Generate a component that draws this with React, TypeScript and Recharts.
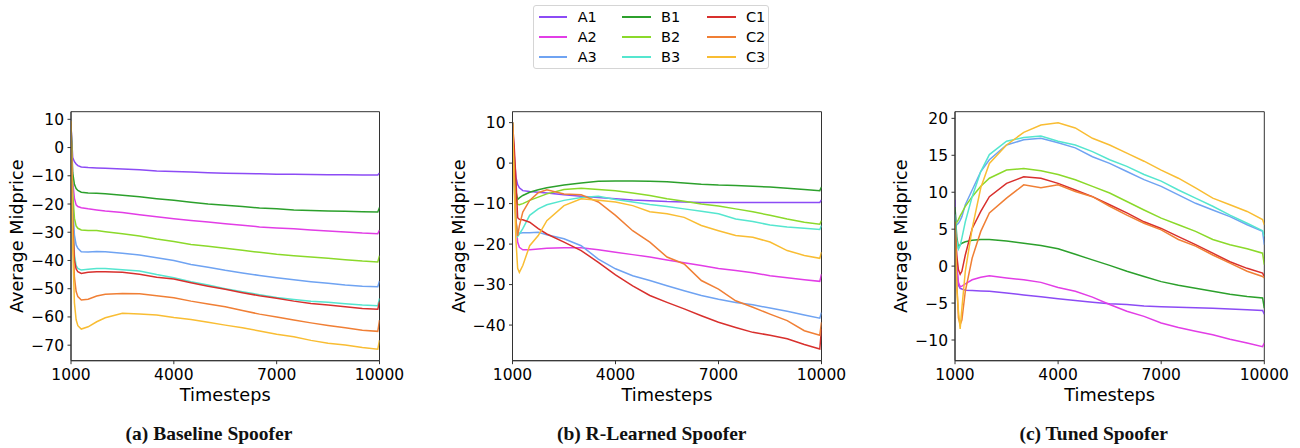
import React from "react";
import { LineChart, Line, XAxis, YAxis, ReferenceArea } from "recharts";

const timesteps = [1000, 1050, 1100, 1150, 1200, 1300, 1500, 1750, 2000, 2500, 3000, 3500, 4000, 4500, 5000, 5500, 6000, 6500, 7000, 7500, 8000, 8500, 9000, 9500, 9950, 10000];
const seriesNames = ["A1", "A2", "A3", "B1", "B2", "B3", "C1", "C2", "C3"];
const seriesColors = ["#8c4bf5", "#e23de6", "#6fa3f2", "#2ca02c", "#8bd92a", "#55e6cf", "#d8302d", "#f07f35", "#f9bd33"];
const xTicks = [1000, 4000, 7000, 10000];

// (a) Baseline Spoofer
const baseA1 = [8, -3.5, -5, -5.8, -6.4, -6.9, -7.1, -7.2, -7.3, -7.6, -7.9, -8.3, -8.5, -8.7, -8.9, -9.1, -9.2, -9.3, -9.5, -9.5, -9.55, -9.6, -9.6, -9.7, -9.7, -9.0];
const baseA2 = [8.5, -12, -18, -20.3, -20.9, -21.3, -21.7, -22.1, -22.5, -23.0, -23.8, -24.5, -25.2, -25.8, -26.4, -27.0, -27.5, -28.1, -28.5, -28.8, -29.2, -29.6, -29.9, -30.3, -30.5, -29.2];
const baseA3 = [8.5, -20, -31, -34.5, -35.7, -36.9, -37.0, -36.8, -36.9, -37.4, -38.1, -39.0, -40.0, -41.4, -42.4, -43.5, -44.4, -45.3, -46.1, -46.8, -47.5, -48.1, -48.7, -49.1, -49.3, -47.3];
const baseB1 = [8.5, -9, -13, -14.5, -15.2, -15.8, -16.1, -16.2, -16.4, -16.9, -17.4, -18.1, -18.7, -19.4, -20.0, -20.4, -20.9, -21.4, -21.7, -22.1, -22.3, -22.5, -22.6, -22.7, -22.8, -21.2];
const baseB2 = [8.5, -16, -25, -27.8, -28.6, -29.2, -29.4, -29.4, -29.8, -30.5, -31.3, -32.4, -33.3, -34.3, -35.0, -35.7, -36.4, -37.1, -37.8, -38.3, -38.8, -39.2, -39.7, -40.2, -40.5, -38.3];
const baseB3 = [8.5, -25, -38, -41.8, -42.8, -43.4, -43.1, -42.8, -42.8, -43.3, -43.7, -45.0, -46.1, -47.5, -48.7, -50.0, -51.1, -52.1, -53.1, -53.8, -54.4, -54.8, -55.3, -55.8, -56.0, -53.4];
const baseC1 = [8.5, -26, -40, -43, -44.0, -44.6, -44.2, -44.0, -44.0, -44.2, -44.9, -45.9, -46.6, -47.9, -49.1, -50.2, -51.4, -52.5, -53.4, -54.4, -55.2, -55.8, -56.4, -57.0, -57.3, -54.6];
const baseC2 = [9, -30, -46, -51, -52.8, -54.0, -53.7, -52.6, -52.0, -51.7, -51.8, -52.5, -53.2, -54.4, -55.4, -56.4, -57.7, -59.0, -60.0, -61.1, -62.1, -63.0, -63.8, -64.7, -65.1, -61.1];
const baseC3 = [9.5, -35, -55, -61, -63.1, -64.3, -63.5, -61.7, -60.3, -58.7, -59.0, -59.3, -60.2, -60.9, -61.9, -62.9, -63.8, -65.0, -66.1, -67.0, -68.3, -69.3, -69.9, -70.8, -71.4, -68.2];

// (b) R-Learned Spoofer
const rlA1 = [10, 2, -3.5, -5.3, -6.1, -6.8, -7.0, -7.2, -7.4, -7.8, -8.2, -8.5, -8.8, -9.1, -9.3, -9.5, -9.6, -9.7, -9.7, -9.7, -9.7, -9.7, -9.7, -9.7, -9.7, -9.1];
const rlA2 = [10, -2, -14, -19.5, -20.8, -21.4, -21.4, -21.2, -21.0, -20.9, -20.9, -21.4, -22.0, -22.6, -23.2, -23.9, -24.6, -25.3, -26.0, -26.5, -27.1, -27.8, -28.3, -28.8, -29.2, -27.4];
const rlA3 = [10, -5, -15, -17.2, -17.3, -17.2, -17.2, -17.1, -17.7, -18.7, -20.4, -23.7, -26.1, -27.8, -29.0, -30.3, -31.5, -32.7, -33.6, -34.4, -35.0, -35.8, -36.6, -37.5, -38.3, -36.9];
const rlB1 = [10, 0, -7, -9, -8.6, -8.0, -7.2, -6.6, -6.1, -5.4, -4.9, -4.5, -4.4, -4.4, -4.5, -4.6, -4.9, -5.2, -5.4, -5.5, -5.7, -5.9, -6.2, -6.5, -6.8, -5.9];
const rlB2 = [10, -2, -8, -10.2, -10.3, -10.0, -9.2, -8.4, -7.6, -6.5, -6.2, -6.5, -6.8, -7.4, -8.0, -8.8, -9.4, -10.1, -10.6, -11.3, -12.0, -12.9, -13.8, -14.6, -15.1, -14.2];
const rlB3 = [10, -5, -14, -18.1, -17.5, -16.2, -12.9, -11.3, -10.3, -9.2, -8.5, -8.2, -9.0, -9.6, -10.2, -10.7, -11.3, -11.9, -12.5, -13.8, -14.4, -15.3, -15.8, -16.1, -16.4, -15.4];
const rlC1 = [10, 4, -4, -13.5, -13.9, -14.0, -14.6, -16.2, -17.5, -19.5, -21.6, -24.5, -27.6, -30.3, -32.7, -34.4, -36.0, -37.7, -39.3, -40.6, -41.8, -42.5, -43.4, -44.8, -45.9, -41.0];
const rlC2 = [10, -3, -14, -18, -15.5, -12.1, -9.2, -7.3, -6.6, -7.6, -7.8, -9.6, -12.9, -16.7, -19.5, -23.2, -24.9, -29.0, -31.1, -34.0, -35.6, -37.3, -38.9, -41.4, -42.5, -39.3];
const rlC3 = [10, -6, -19, -26, -27.0, -25.3, -20.4, -17.9, -14.2, -10.5, -8.8, -9.2, -9.6, -10.5, -12.0, -12.5, -13.4, -15.4, -16.7, -17.9, -18.3, -19.5, -21.6, -22.8, -23.5, -22.0];

// (c) Tuned Spoofer
const tunedA1 = [9, 0, -2.6, -3.0, -3.1, -3.25, -3.3, -3.35, -3.4, -3.65, -3.9, -4.15, -4.4, -4.65, -4.9, -5.1, -5.2, -5.4, -5.5, -5.55, -5.65, -5.7, -5.8, -5.9, -6.0, -6.5];
const tunedA2 = [8, 0, -2.2, -2.8, -2.7, -2.4, -1.85, -1.5, -1.3, -1.6, -1.85, -2.2, -2.9, -3.4, -4.2, -5.2, -6.1, -6.8, -7.7, -8.3, -8.8, -9.3, -9.9, -10.4, -10.9, -10.4];
const tunedA3 = [5.5, 5.6, 5.8, 6.2, 6.7, 8.3, 10.3, 12.8, 14.4, 16.4, 17.1, 17.3, 16.7, 16.0, 14.8, 13.9, 12.8, 11.7, 10.8, 9.65, 8.5, 7.6, 6.7, 5.6, 4.7, 2.9];
const tunedB1 = [8, 4, 2.5, 2.9, 3.1, 3.3, 3.5, 3.6, 3.6, 3.4, 3.1, 2.8, 2.35, 1.6, 0.85, 0.1, -0.7, -1.4, -2.1, -2.6, -3.0, -3.4, -3.8, -4.1, -4.3, -5.7];
const tunedB2 = [5.5, 5.9, 6.3, 6.8, 7.2, 8.1, 9.4, 10.8, 11.9, 13.0, 13.2, 12.9, 12.4, 11.7, 10.8, 9.9, 8.75, 7.6, 6.5, 5.6, 4.7, 3.6, 2.9, 2.35, 1.75, 0.2];
const tunedB3 = [7, 3.5, 2.3, 2.8, 3.8, 6.0, 9.4, 12.8, 15.1, 16.9, 17.4, 17.6, 16.9, 16.4, 15.5, 14.4, 13.5, 12.4, 11.5, 10.3, 9.2, 8.1, 6.9, 5.8, 4.8, 4.0];
const tunedC1 = [6, 1.5, -0.5, -1.1, -0.7, 1.5, 5.1, 7.4, 9.4, 11.2, 12.1, 11.9, 11.2, 10.3, 9.4, 8.3, 7.2, 6.0, 5.1, 4.0, 2.9, 1.75, 0.6, -0.3, -0.95, -1.4];
const tunedC2 = [5, -2, -7.0, -7.9, -7.3, -3.4, 1.1, 4.7, 7.2, 9.2, 11.0, 10.6, 11.0, 10.1, 9.4, 8.1, 6.9, 5.8, 4.9, 3.6, 2.7, 1.5, 0.4, -0.7, -1.4, -1.6];
const tunedC3 = [6, -3, -6.1, -8.5, -5.7, -0.7, 5.1, 10.6, 13.9, 16.4, 18.1, 19.1, 19.4, 18.7, 17.3, 16.4, 15.3, 14.2, 13.0, 11.9, 10.6, 9.2, 8.3, 7.4, 6.3, 5.6];

const baseTicks = [10, 0, -10, -20, -30, -40, -50, -60, -70];
const rlTicks = [10, 0, -10, -20, -30, -40];
const tunedTicks = [20, 15, 10, 5, 0, -5, -10];

const captions = ["(a) Baseline Spoofer", "(b) R-Learned Spoofer", "(c) Tuned Spoofer"];

function buildRows(cols: number[][]) {
  return timesteps.map((t, i) => {
    const row: Record<string, number> = { t };
    seriesNames.forEach((n, k) => {
      row[n] = cols[k][i];
    });
    return row;
  });
}

const baseRows = buildRows([baseA1, baseA2, baseA3, baseB1, baseB2, baseB3, baseC1, baseC2, baseC3]);
const rlRows = buildRows([rlA1, rlA2, rlA3, rlB1, rlB2, rlB3, rlC1, rlC2, rlC3]);
const tunedRows = buildRows([tunedA1, tunedA2, tunedA3, tunedB1, tunedB2, tunedB3, tunedC1, tunedC2, tunedC3]);

const FONT = "DejaVu Sans, sans-serif";
const fmt = (v: number) => String(v).replace("-", "\u2212");

type PanelProps = {
  left: number;
  yAxisWidth: number;
  plotWidth: number;
  rows: Record<string, number>[];
  domain: [number, number];
  ticks: number[];
  labelOffset: number;
  caption: string;
  captionCenter: number;
};

const CHART_W = 420;
const CHART_H = 448;
const TOP = 111.7;
const PLOT_H = 249;
const XAXIS_H = 26;

function Panel(p: PanelProps) {
  const marginRight = CHART_W - p.yAxisWidth - p.plotWidth;
  const marginBottom = CHART_H - TOP - PLOT_H - XAXIS_H;
  const yLabel = (props: any) => {
    const vb = props.viewBox || {};
    const cx = vb.x + p.labelOffset;
    const cy = vb.y + vb.height / 2;
    return (
      <text
        x={cx}
        y={cy}
        transform={`rotate(-90, ${cx}, ${cy})`}
        textAnchor="middle"
        dominantBaseline="central"
        fontFamily={FONT}
        fontSize={17.7}
        fill="#000"
      >
        Average Midprice
      </text>
    );
  };
  const xLabel = (props: any) => {
    const vb = props.viewBox || {};
    return (
      <text
        x={vb.x + vb.width / 2}
        y={vb.y + vb.height + 14.5}
        textAnchor="middle"
        fontFamily={FONT}
        fontSize={17.7}
        fill="#000"
      >
        Timesteps
      </text>
    );
  };
  return (
    <div style={{ position: "absolute", left: p.left, top: 0, width: CHART_W, height: CHART_H }}>
      <LineChart
        width={CHART_W}
        height={CHART_H}
        data={p.rows}
        margin={{ top: TOP, right: marginRight, bottom: marginBottom, left: 0 }}
      >
        <XAxis
          xAxisId="main"
          dataKey="t"
          type="number"
          domain={[1000, 10000]}
          ticks={xTicks}
          allowDataOverflow
          height={XAXIS_H}
          tickSize={3.5}
          tickMargin={4.5}
          interval={0}
          stroke="#333"
          tick={{ fill: "#000", fontSize: 15.5, fontFamily: FONT }}
          tickLine={{ stroke: "#333" }}
          label={xLabel}
        />
        <YAxis
          yAxisId="main"
          type="number"
          domain={p.domain}
          ticks={p.ticks}
          allowDataOverflow
          width={p.yAxisWidth}
          tickSize={3.5}
          tickMargin={3.5}
          interval={0}
          stroke="#333"
          tickFormatter={fmt}
          tick={{ fill: "#000", fontSize: 15.5, fontFamily: FONT }}
          tickLine={{ stroke: "#333" }}
          label={yLabel}
        />
        {seriesNames.map((n, k) => (
          <Line
            key={n}
            xAxisId="main"
            yAxisId="main"
            dataKey={n}
            type="linear"
            stroke={seriesColors[k]}
            strokeWidth={1.5}
            dot={false}
            activeDot={false}
            isAnimationActive={false}
          />
        ))}
        <ReferenceArea
          xAxisId="main"
          yAxisId="main"
          x1={1000}
          x2={10000}
          y1={p.domain[0]}
          y2={p.domain[1]}
          fill="none"
          fillOpacity={0}
          stroke="#333"
          strokeWidth={1}
          ifOverflow="visible"
        />
      </LineChart>
      <div
        style={{
          position: "absolute",
          left: p.captionCenter - p.left - 150,
          width: 300,
          top: 422,
          textAlign: "center",
          fontFamily: "Liberation Serif, serif",
          fontWeight: "bold",
          fontSize: 19.5,
          lineHeight: "24px",
          color: "#111",
          whiteSpace: "nowrap",
        }}
      >
        {p.caption}
      </div>
    </div>
  );
}

function LegendBox() {
  const colX = [537.7, 621, 706];
  const rowY = [15.7, 35.8, 56];
  return (
    <div
      style={{
        position: "absolute",
        left: 532.5,
        top: 4.5,
        width: 236,
        height: 64,
        border: "1px solid #d5d5d5",
        borderRadius: 3,
        background: "#fff",
        boxSizing: "border-box",
      }}
    >
      {seriesNames.map((n, k) => {
        const c = Math.floor(k / 3);
        const r = k % 3;
        return (
          <div key={n} style={{ position: "absolute", left: colX[c] - 532.5, top: rowY[r] - 4.5 - 10, height: 20, width: 70 }}>
            <div
              style={{
                position: "absolute",
                left: 0,
                top: 9,
                width: 28.5,
                height: 2,
                background: seriesColors[k],
              }}
            />
            <div
              style={{
                position: "absolute",
                left: 39,
                top: 0,
                height: 20,
                lineHeight: "20px",
                fontFamily: FONT,
                fontSize: 14.5,
                color: "#000",
              }}
            >
              {n}
            </div>
          </div>
        );
      })}
    </div>
  );
}

export default function App() {
  return (
    <div style={{ position: "absolute", left: 0, top: 0, width: 1300, height: 448, background: "#fff", overflow: "hidden" }}>
      <Panel
        left={0}
        yAxisWidth={71}
        plotWidth={308.5}
        rows={baseRows}
        domain={[-75.5, 12.7]}
        ticks={baseTicks}
        labelOffset={16.7}
        caption={captions[0]}
        captionCenter={209}
      />
      <Panel
        left={440}
        yAxisWidth={72.5}
        plotWidth={309}
        rows={rlRows}
        domain={[-48.8, 12.7]}
        ticks={rlTicks}
        labelOffset={19}
        caption={captions[1]}
        captionCenter={651.7}
      />
      <Panel
        left={880}
        yAxisWidth={75}
        plotWidth={309.3}
        rows={tunedRows}
        domain={[-12.8, 20.9]}
        ticks={tunedTicks}
        labelOffset={21}
        caption={captions[2]}
        captionCenter={1093.7}
      />
      <LegendBox />
    </div>
  );
}
